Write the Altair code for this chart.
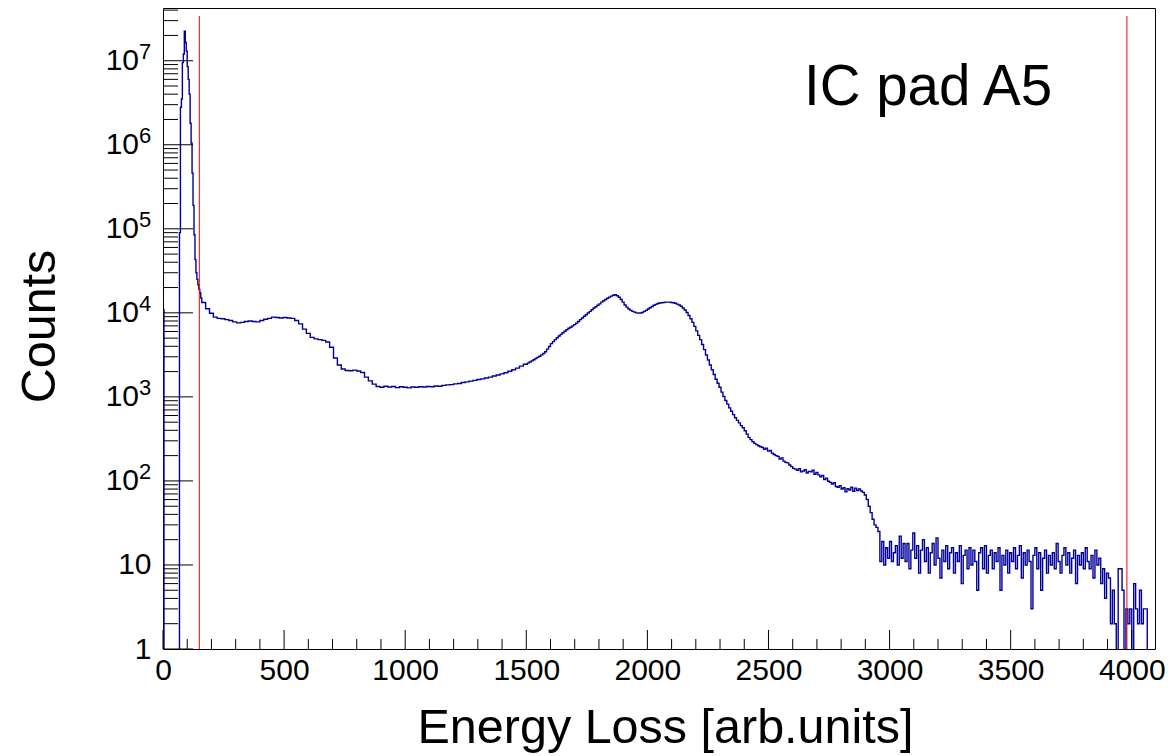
import altair as alt
import pandas as pd

FONT = "Liberation Sans"

# ---- histogram contents ----
# 4-unit bins from 0
peak_start, peak_width = 0, 4
peak_counts = [1.1e4] + [0] * 16 + [
    9e4, 2.8e6, 3.5e6, 9.5e6, 1.2e7, 2.25e7, 1.65e7, 1.3e7, 8.5e6, 6.0e6,
    4.0e6, 1.8e6, 1.05e6, 4.6e5, 1.9e5, 8.5e4, 4.3e4, 3.0e4, 2.5e4, 2.15e4,
    1.9e4, 1.72e4, 1.5e4]

# 16-unit bins from 160
flat_start, flat_width = 160, 16
flat_counts = [
    1.33e4, 1.12e4, 9.9e3, 8.9e3, 8.6e3, 8.5e3, 8.3e3, 8.1e3, 7.8e3, 7.6e3,
    7.7e3, 7.9e3, 8.0e3, 7.9e3, 7.8e3, 8.1e3, 8.4e3, 8.6e3, 8.9e3, 8.8e3,
    8.7e3, 8.8e3, 8.7e3, 8.6e3, 8.1e3, 7.4e3, 6.4e3, 5.7e3, 5.1e3, 4.9e3,
    4.8e3, 4.7e3, 4.5e3, 3.9e3, 2.9e3, 2.4e3, 2.15e3, 2.06e3, 2.05e3, 2.08e3,
    2.03e3, 1.95e3, 1.72e3, 1.55e3, 1.42e3, 1.33e3, 1.30e3, 1.34e3, 1.31e3, 1.33e3,
    1.29e3, 1.32e3, 1.30e3, 1.28e3, 1.31e3, 1.30e3, 1.32e3, 1.31e3, 1.33e3, 1.32e3,
    1.35e3, 1.34e3, 1.37e3, 1.39e3, 1.40e3, 1.43e3, 1.44e3, 1.48e3, 1.51e3, 1.54e3,
    1.57e3, 1.61e3, 1.64e3, 1.68e3, 1.72e3, 1.77e3, 1.82e3, 1.88e3, 1.94e3, 2.02e3,
    2.10e3, 2.20e3, 2.32e3, 2.45e3]

# 8-unit bins from 1504
bump_start, bump_width = 1504, 8
bump_counts = [
    2.52e3, 2.60e3, 2.68e3, 2.77e3, 2.86e3, 2.95e3, 3.05e3, 3.16e3, 3.28e3, 3.45e3,
    3.70e3, 3.98e3, 4.30e3, 4.55e3, 4.80e3, 5.05e3, 5.30e3, 5.55e3, 5.80e3, 6.05e3,
    6.30e3, 6.55e3, 6.75e3, 7.00e3, 7.25e3, 7.55e3, 7.90e3, 8.30e3, 8.70e3, 9.10e3,
    9.50e3, 9.95e3, 1.04e4, 1.09e4, 1.14e4, 1.18e4, 1.23e4, 1.28e4, 1.34e4, 1.39e4,
    1.44e4, 1.49e4, 1.54e4, 1.58e4, 1.62e4, 1.64e4, 1.60e4, 1.53e4, 1.44e4, 1.34e4,
    1.24e4, 1.17e4, 1.11e4, 1.07e4, 1.04e4, 1.02e4, 1.00e4, 9.95e3, 9.95e3, 1.01e4,
    1.04e4, 1.07e4, 1.11e4, 1.15e4, 1.19e4, 1.23e4, 1.26e4, 1.29e4, 1.31e4, 1.32e4,
    1.33e4, 1.34e4, 1.34e4, 1.34e4, 1.33e4, 1.32e4, 1.30e4, 1.27e4, 1.24e4, 1.20e4,
    1.14e4, 1.08e4, 1.01e4, 9.3e3, 8.5e3, 7.7e3, 6.9e3, 6.1e3, 5.4e3, 4.8e3,
    4.2e3, 3.65e3, 3.15e3, 2.75e3, 2.40e3, 2.10e3, 1.85e3, 1.62e3, 1.45e3, 1.30e3,
    1.14e3, 1.01e3, 905, 820, 740, 675, 615, 565, 525, 490,
    455, 430, 395, 360, 330, 310, 292, 280, 270, 262,
    255, 250, 238, 245, 226, 230, 214, 206, 200, 196,
    182, 188, 172, 166, 164, 155, 148, 141, 138, 134,
    140, 128, 131, 136, 124, 130, 128, 134, 120, 126,
    118, 112, 116, 104, 108, 99, 96, 92, 95, 86,
    84, 88, 80, 83, 74, 81, 78, 84, 75, 82,
    77, 80, 76, 73, 68, 60, 50, 42, 35, 30]

# 8-unit bins, noisy tail
tail_width = 8
tail_counts = [
    28, 25, 11, 19, 10, 16, 12, 19, 11, 14,
    17, 10, 22, 12, 18, 11, 18, 9, 15, 24,
    12, 17, 8, 15, 20, 11, 16, 8, 14, 18,
    10, 21, 12, 7, 15, 11, 17, 9, 14, 16,
    8, 14, 11, 17, 6, 13, 15, 9, 16, 10,
    15, 11, 5, 14, 16, 9, 17, 8, 13, 15,
    9, 14, 11, 16, 5, 13, 10, 15, 8, 14,
    11, 16, 9, 13, 17, 7, 14, 10, 15, 11,
    3, 13, 16, 9, 14, 5, 12, 15, 8, 13,
    10, 14, 9, 18, 11, 8, 13, 16, 10, 14,
    8, 12, 15, 6, 13, 10, 14, 9, 16, 11,
    9, 13, 7, 15, 10, 12, 6,
    9, 4, 8, 7, 2, 5, 2,
    0, 9, 9, 5, 0, 3, 2, 3, 0, 6, 3, 2, 5, 2, 3, 3,
    0, 0, 0, 0]

x_max = 4096
y_min, y_max = 1, 4.24e7

# cut lines (red)
cut_positions = [150, 3980]
cut_top = 3.4e7

# axis tick values and labels
x_major = [0, 500, 1000, 1500, 2000, 2500, 3000, 3500, 4000]
x_minor = [v for v in range(100, 4100, 100) if v % 500 != 0]
y_major = [1, 10, 100, 1e3, 1e4, 1e5, 1e6, 1e7]
y_minor = [m * 10 ** k for k in range(0, 8) for m in range(2, 10) if m * 10 ** k <= y_max]
y_pow_values = [100, 1e3, 1e4, 1e5, 1e6, 1e7]
y_pow_exps = ["2", "3", "4", "5", "6", "7"]

# ---- build histogram table ----
tail_start = bump_start + bump_width * len(bump_counts)
rows = []
for start, width, counts in [(peak_start, peak_width, peak_counts),
                             (flat_start, flat_width, flat_counts),
                             (bump_start, bump_width, bump_counts),
                             (tail_start, tail_width, tail_counts)]:
    for i, c in enumerate(counts):
        rows.append({"x": start + i * width, "count": c})
rows.append({"x": x_max, "count": tail_counts[-1]})
hist = pd.DataFrame(rows)

xscale = alt.Scale(domain=[0, x_max], nice=False, zero=False)
yscale = alt.Scale(type="log", domain=[y_min, y_max], nice=False)

xaxis = alt.Axis(
    values=x_major, format="d", ticks=False, tickSize=0, domain=False, grid=False,
    labelFont=FONT, labelFontSize=30, labelColor="black", labelPadding=6,
    labelFlush=False, labelOverlap=False,
    title="Energy Loss [arb.units]", titleFont=FONT, titleFontSize=48.5,
    titleFontWeight="normal", titleColor="black", titleX=502, titleY=93,
    titleAlign="center", titleBaseline="alphabetic")
yaxis = alt.Axis(
    values=y_major, ticks=False, tickSize=0, domain=False, grid=False,
    labelFont=FONT, labelFontSize=30, labelColor="black", labelPadding=12,
    labelExpr="datum.value < 5 ? '1' : (datum.value < 50 ? '10' : '')",
    labelOverlap=False, labelFlush=False,
    title="Counts", titleFont=FONT, titleFontSize=48.5, titleFontWeight="normal",
    titleColor="black", titleX=-109, titleY=318, titleAngle=270,
    titleAlign="center", titleBaseline="alphabetic")

line = alt.Chart(hist).transform_calculate(
    yv="max(datum.count, 0.05)"
).mark_line(interpolate="step-after", color="#000099", strokeWidth=1.4, clip=True).encode(
    x=alt.X("x:Q", scale=xscale, axis=xaxis),
    y=alt.Y("yv:Q", scale=yscale, axis=yaxis),
)

cuts = alt.Chart(pd.DataFrame({"x": cut_positions, "yv": [y_min] * 2, "y1": [cut_top] * 2})).mark_rule(
    color="#ff0000", strokeWidth=1, clip=True
).encode(
    x=alt.X("x:Q", scale=xscale, axis=xaxis),
    y=alt.Y("yv:Q", scale=yscale, axis=yaxis),
    y2="y1:Q",
)

xmaj = alt.Chart(pd.DataFrame({"x": x_major})).mark_rule(color="black", strokeWidth=1).encode(
    x=alt.X("x:Q", scale=xscale, axis=xaxis), y=alt.value(641), y2=alt.value(622))
xmin = alt.Chart(pd.DataFrame({"x": x_minor})).mark_rule(color="black", strokeWidth=1).encode(
    x=alt.X("x:Q", scale=xscale, axis=xaxis), y=alt.value(641), y2=alt.value(631))
ymaj = alt.Chart(pd.DataFrame({"yv": y_major})).mark_rule(color="black", strokeWidth=1).encode(
    y=alt.Y("yv:Q", scale=yscale, axis=yaxis), x=alt.value(0), x2=alt.value(30))
ymin = alt.Chart(pd.DataFrame({"yv": y_minor})).mark_rule(color="black", strokeWidth=1).encode(
    y=alt.Y("yv:Q", scale=yscale, axis=yaxis), x=alt.value(0), x2=alt.value(15))

pow_df = pd.DataFrame({"yv": y_pow_values, "base": ["10"] * len(y_pow_values), "exp": y_pow_exps})
pow_base = alt.Chart(pow_df).mark_text(
    font=FONT, fontSize=30, color="black", align="right", baseline="middle"
).encode(y=alt.Y("yv:Q", scale=yscale, axis=yaxis), x=alt.value(-24), text="base:N")
pow_exp = alt.Chart(pow_df).mark_text(
    font=FONT, fontSize=22, color="black", align="left", baseline="middle", dy=-9
).encode(y=alt.Y("yv:Q", scale=yscale, axis=yaxis), x=alt.value(-24), text="exp:N")

label = alt.Chart(pd.DataFrame({"t": ["IC pad A5"]})).mark_text(
    font=FONT, fontSize=56.5, color="black", align="left", baseline="alphabetic"
).encode(text="t:N", x=alt.value(641), y=alt.value(97))

chart = alt.layer(line, cuts, xmaj, xmin, ymaj, ymin, pow_base, pow_exp, label).properties(
    width=992, height=641,
    background="white",
    autosize=alt.AutoSizeParams(type="none"),
    padding={"left": 163, "top": 8, "right": 13, "bottom": 107},
).configure_view(stroke="black", strokeWidth=1)

chart.save("out.html", embed_options={"renderer": "svg", "actions": False})
